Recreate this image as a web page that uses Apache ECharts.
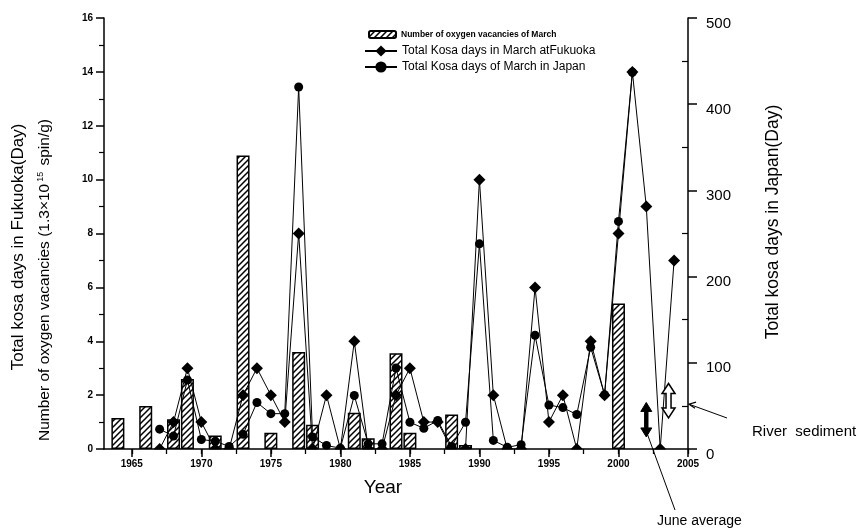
<!DOCTYPE html>
<html>
<head>
<meta charset="utf-8">
<script src="https://cdn.jsdelivr.net/npm/echarts@6/dist/echarts.min.js"></script>
<style>
  html, body { margin: 0; padding: 0; background: #fff; }
  #chart { width: 860px; height: 529px; }
</style>
</head>
<body>
<div id="chart"></div>
<script>
// Oxygen vacancies in March (1.3e15 spin/g), per sampled year
const barYears  = [1964, 1966, 1968, 1969, 1971, 1973, 1975, 1977, 1978, 1981, 1982, 1984, 1985, 1988, 1989, 2000];
const vacancies = [1.15, 1.6, 1.1, 2.6, 0.5, 10.9, 0.6, 3.6, 0.9, 1.35, 0.4, 3.55, 0.6, 1.28, 0.15, 5.4];

// Kosa (yellow dust) days in March observed at Fukuoka
const fukuokaYears = [1967, 1968, 1969, 1970, 1971, 1972, 1973, 1974, 1975, 1976, 1977, 1978, 1979, 1980,
                      1981, 1982, 1983, 1984, 1985, 1986, 1987, 1988, 1989, 1990, 1991, 1992, 1993, 1994,
                      1995, 1996, 1997, 1998, 1999, 2000, 2001, 2002, 2003, 2004];
const fukuokaDays  = [0, 1, 3, 1, 0, 0, 2, 3, 2, 1, 8, 0, 2, 0,
                      4, 0, 0, 2, 3, 1, 1, 0, 0, 10, 2, 0, 0, 6,
                      1, 2, 0, 4, 2, 8, 14, 9, 0, 7];

// Kosa days in March summed over all stations in Japan
const japanYears = [1967, 1968, 1969, 1970, 1971, 1972, 1973, 1974, 1975, 1976, 1977, 1978, 1979, 1980,
                    1981, 1982, 1983, 1984, 1985, 1986, 1987, 1988, 1989, 1990, 1991, 1992, 1993, 1994,
                    1995, 1996, 1997, 1998, 1999, 2000, 2001];
const japanDays  = [23, 15, 80, 11, 9, 3, 17, 54, 41, 41, 420, 14, 4, 1,
                    62, 6, 6, 94, 31, 24, 33, 3, 31, 238, 10, 2, 5, 132,
                    51, 48, 40, 118, 63, 264, 437];

// Reference ranges (Japan axis units): June average and river sediment
const rangeNames = ['June average', 'River  sediment'];
const rangeYears = [2002, 2003.6];
const rangeLow   = [14, 36];
const rangeHigh  = [54, 76];
const riverSedimentLevel = 52;

// Axis ticks
const xMajorTicks = [1965, 1970, 1975, 1980, 1985, 1990, 1995, 2000, 2005];
const xAllTicks = [1965, 1967.5, 1970, 1972.5, 1975, 1977.5, 1980, 1982.5, 1985, 1987.5,
                   1990, 1992.5, 1995, 1997.5, 2000, 2002.5, 2005];
const rightMinorTicks = [50, 150, 250, 350, 450];

const FONT = '"Liberation Sans", Arial, Helvetica, sans-serif';

function hatchPattern() {
  const s = 6;
  const c = document.createElement('canvas');
  c.width = s; c.height = s;
  const g = c.getContext('2d');
  g.fillStyle = '#fff';
  g.fillRect(0, 0, s, s);
  g.strokeStyle = '#000';
  g.lineWidth = 1.5;
  g.beginPath();
  g.moveTo(0, s); g.lineTo(s, 0);
  g.moveTo(-1, 1); g.lineTo(1, -1);
  g.moveTo(s - 1, s + 1); g.lineTo(s + 1, s - 1);
  g.stroke();
  return c;
}

const chart = echarts.init(document.getElementById('chart'), null, { renderer: 'canvas' });

const axisLine = { show: true, lineStyle: { color: '#000', width: 1.5 } };
const plainYear = v => String(Math.round(v));

chart.setOption({
  animation: false,
  backgroundColor: '#fff',
  textStyle: { fontFamily: FONT, color: '#000' },
  grid: { left: 104, right: 172, top: 18, bottom: 80 },
  legend: [
    {
      data: ['Number of oxygen vacancies of March'],
      left: 368, top: 30, padding: 0,
      itemWidth: 27, itemHeight: 7,
      textStyle: { fontFamily: FONT, fontSize: 8.5, fontWeight: 'bold', color: '#000' },
      selectedMode: false
    },
    {
      data: ['Total Kosa days in March atFukuoka', 'Total Kosa days of March in Japan'],
      orient: 'vertical',
      left: 364, top: 45, padding: 0,
      itemWidth: 32, itemHeight: 14, itemGap: 4,
      textStyle: { fontFamily: FONT, fontSize: 12, color: '#000' },
      selectedMode: false
    }
  ],
  xAxis: [
    {
      type: 'value', min: 1963, max: 2005, position: 'bottom', z: 10,
      axisLine: axisLine,
      axisTick: { show: true, customValues: xAllTicks, length: 5, lineStyle: { color: '#000', width: 1.3 } },
      axisLabel: { customValues: xMajorTicks, formatter: plainYear, fontSize: 10, fontWeight: 'bold', color: '#000', margin: 10, fontFamily: FONT },
      splitLine: { show: false }
    },
    {
      type: 'value', min: 1963, max: 2005, position: 'bottom', z: 10,
      axisLine: { show: true, onZero: false, lineStyle: { color: 'rgba(0,0,0,0)', width: 1 } },
      axisTick: { show: true, customValues: xMajorTicks, length: 8, lineStyle: { color: '#000', width: 1.5 } },
      axisLabel: { show: false },
      splitLine: { show: false }
    }
  ],
  yAxis: [
    {
      type: 'value', min: 0, max: 16, interval: 2, position: 'left', z: 10,
      axisLine: axisLine,
      axisTick: { show: true, length: 8, lineStyle: { color: '#000', width: 1.5 } },
      minorTick: { show: true, splitNumber: 2, length: 5, lineStyle: { color: '#000', width: 1.2 } },
      axisLabel: { fontSize: 10, fontWeight: 'bold', color: '#000', margin: 11, fontFamily: FONT },
      splitLine: { show: false }
    },
    {
      type: 'value', min: 0, max: 500, interval: 100, position: 'right', z: 10,
      axisLine: axisLine,
      axisTick: { show: true, length: 9, lineStyle: { color: '#000', width: 1.5 } },
      axisLabel: { fontSize: 15, color: '#000', margin: 18, verticalAlign: 'top', lineHeight: 11, fontFamily: FONT },
      splitLine: { show: false }
    },
    {
      type: 'value', min: 0, max: 500, position: 'right', z: 10,
      axisLine: { show: false },
      axisTick: { show: true, inside: true, customValues: rightMinorTicks, length: 6, lineStyle: { color: '#000', width: 1.2 } },
      axisLabel: { show: false },
      splitLine: { show: false }
    }
  ],
  series: [
    {
      name: 'Number of oxygen vacancies of March',
      type: 'bar',
      xAxisIndex: 0, yAxisIndex: 0,
      barWidth: 13,
      data: barYears.map((y, i) => [y, vacancies[i]]),
      itemStyle: { color: { image: hatchPattern(), repeat: 'repeat' }, borderColor: '#000', borderWidth: 1.5 },
      z: 2
    },
    {
      name: 'Total Kosa days of March in Japan',
      type: 'line',
      xAxisIndex: 0, yAxisIndex: 1,
      data: japanYears.map((y, i) => [y, japanDays[i]]),
      symbol: 'circle', symbolSize: 9,
      showAllSymbol: true,
      itemStyle: { color: '#000' },
      lineStyle: { color: '#000', width: 1 },
      z: 3
    },
    {
      name: 'Total Kosa days in March atFukuoka',
      type: 'line',
      xAxisIndex: 0, yAxisIndex: 0,
      data: fukuokaYears.map((y, i) => [y, fukuokaDays[i]]),
      symbol: 'diamond', symbolSize: 12,
      showAllSymbol: true,
      itemStyle: { color: '#000' },
      lineStyle: { color: '#000', width: 1 },
      z: 4
    },
    {
      name: 'ranges',
      type: 'custom',
      xAxisIndex: 0, yAxisIndex: 1,
      data: rangeYears.map((y, i) => [y, rangeLow[i], rangeHigh[i]]),
      renderItem: function (params, api) {
        const top = api.coord([api.value(0), api.value(2)]);
        const bot = api.coord([api.value(0), api.value(1)]);
        const x = top[0];
        const hollow = params.dataIndex === 1;
        const hw = hollow ? 6.5 : 5.5, sw = hollow ? 2.5 : 1.7, hh = hollow ? 10 : 9;
        const t = top[1], b = bot[1];
        const pts = [
          [x, t], [x + hw, t + hh], [x + sw, t + hh], [x + sw, b - hh], [x + hw, b - hh],
          [x, b], [x - hw, b - hh], [x - sw, b - hh], [x - sw, t + hh], [x - hw, t + hh]
        ];
        return {
          type: 'polygon',
          shape: { points: pts },
          style: { fill: hollow ? '#fff' : '#000', stroke: '#000', lineWidth: hollow ? 1.5 : 1 }
        };
      },
      z: 5
    }
  ]
});

// Axis titles, range annotations and the strip below the baseline that trims markers sitting on zero
const junePt  = chart.convertToPixel({ seriesIndex: 3 }, [rangeYears[0], rangeLow[0]]);
const riverPt = chart.convertToPixel({ seriesIndex: 3 }, [2005, riverSedimentLevel]);
const base0   = chart.convertToPixel({ seriesIndex: 2 }, [1963, 0]);
const base1   = chart.convertToPixel({ seriesIndex: 2 }, [2005, 0]);

chart.setOption({
  graphic: [
    {
      type: 'rect', z: 6, silent: true,
      shape: { x: base0[0] + 1, y: base0[1] + 0.5, width: base1[0] - base0[0] - 2, height: 8 },
      style: { fill: '#fff' }
    },
    {
      type: 'text', x: 18, y: 247, rotation: Math.PI / 2,
      style: { text: 'Total kosa days in Fukuoka(Day)', font: '17px ' + FONT, fill: '#000', align: 'center', verticalAlign: 'middle' }
    },
    {
      type: 'text', x: 45, y: 280, rotation: Math.PI / 2,
      style: {
        text: 'Number of oxygen vacancies (1.3\u00d710{sup|15} spin/g)',
        font: '15.5px ' + FONT, fill: '#000', align: 'center', verticalAlign: 'middle',
        rich: { sup: { fontSize: 9, fontFamily: FONT, verticalAlign: 'top', padding: [0, 2, 8, 2] } }
      }
    },
    {
      type: 'text', x: 773, y: 222, rotation: Math.PI / 2,
      style: { text: 'Total kosa days in Japan(Day)', font: '17.5px ' + FONT, fill: '#000', align: 'center', verticalAlign: 'middle' }
    },
    {
      type: 'text', x: 383, y: 488,
      style: { text: 'Year', font: '19px ' + FONT, fill: '#000', align: 'center', verticalAlign: 'middle' }
    },
    {
      type: 'line', z: 10,
      shape: { x1: junePt[0] + 1, y1: junePt[1] - 3, x2: 675, y2: 510 },
      style: { stroke: '#000', lineWidth: 1 }
    },
    {
      type: 'text', x: 657, y: 521,
      style: { text: rangeNames[0], font: '14px ' + FONT, fill: '#000', align: 'left', verticalAlign: 'middle' }
    },
    {
      type: 'line', z: 10,
      shape: { x1: 727, y1: 418, x2: riverPt[0] + 1, y2: riverPt[1] },
      style: { stroke: '#000', lineWidth: 1 }
    },
    {
      type: 'polyline', z: 10,
      shape: { points: [[riverPt[0] + 8, riverPt[1] - 2], [riverPt[0] + 1, riverPt[1]], [riverPt[0] + 7, riverPt[1] + 4]] },
      style: { stroke: '#000', lineWidth: 1.2, fill: null }
    },
    {
      type: 'text', x: 752, y: 432,
      style: { text: rangeNames[1], font: '15px ' + FONT, fill: '#000', align: 'left', verticalAlign: 'middle' }
    }
  ]
});
</script>
</body>
</html>
